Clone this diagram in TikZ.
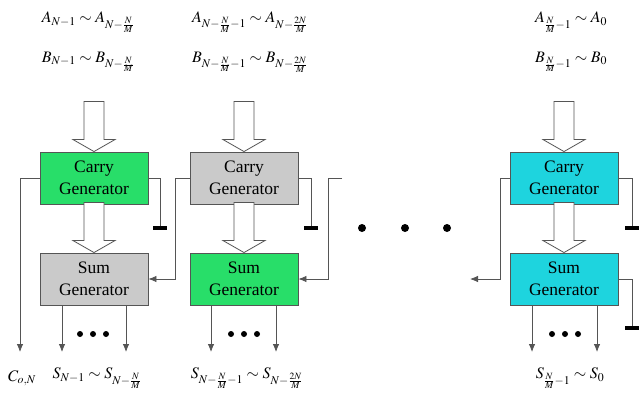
\documentclass[tikz,border=0pt]{standalone}
\usepackage{mathptmx}
\usepackage{fontspec}
\setmainfont{Liberation Serif}
\usetikzlibrary{arrows.meta,calc}
\definecolor{cgreen}{RGB}{40,222,105}
\definecolor{cgray}{RGB}{202,202,202}
\definecolor{ccyan}{RGB}{30,212,222}
\definecolor{wire}{RGB}{85,85,85}
\begin{document}
\begin{tikzpicture}[x=1pt,y=-1pt,
  blk/.style={draw=wire, line width=0.9pt, minimum width=108pt, minimum height=52pt, inner sep=0pt, align=center, font=\fontsize{17.5}{22}\selectfont},
  lbl/.style={inner sep=0pt, font=\fontsize{16}{19}\selectfont},
  wr/.style={draw=wire, line width=0.8pt},
  arr/.style={wr, -{Latex[length=8pt,width=6.5pt]}},
  gnd/.style={draw=black, line width=3.2pt},
  hollow/.pic={\draw[draw=wire, fill=white, line width=0.8pt] (0,0) -- (-21,-12) -- (-10,-12) -- (-10,-50) -- (10,-50) -- (10,-12) -- (21,-12) -- cycle;},
  bigdot/.style={circle, fill=black, inner sep=0pt, minimum size=8pt},
  smdot/.style={circle, fill=black, inner sep=0pt, minimum size=6pt}]
\useasboundingbox (0,0) rectangle (639,399);

% blocks
\node[blk, fill=cgreen] (c1) at (94,178) {Carry\\Generator};
\node[blk, fill=cgray]  (s1) at (94,279) {Sum\\Generator};
\node[blk, fill=cgray]  (c2) at (244,178) {Carry\\Generator};
\node[blk, fill=cgreen] (s2) at (244,279) {Sum\\Generator};
\node[blk, fill=ccyan]  (c3) at (564,178) {Carry\\Generator};
\node[blk, fill=ccyan]  (s3) at (564,279) {Sum\\Generator};

% top labels
\node[lbl] (a1) at (88,22) {$A_{N-1}\sim A_{N-\frac{N}{M}}$};
\node[lbl] (b1) at (88,62) {$B_{N-1}\sim B_{N-\frac{N}{M}}$};
\node[lbl] (a2) at (250,22) {$A_{N-\frac{N}{M}-1}\sim A_{N-\frac{2N}{M}}$};
\node[lbl] (b2) at (250,62) {$B_{N-\frac{N}{M}-1}\sim B_{N-\frac{2N}{M}}$};
\node[lbl] (a3) at (571,22) {$A_{\frac{N}{M}-1}\sim A_{0}$};
\node[lbl] (b3) at (571,62) {$B_{\frac{N}{M}-1}\sim B_{0}$};

% bottom labels
\node[lbl] (co) at (22,378) {$C_{o,N}$};
\node[lbl] (o1) at (97,378) {$S_{N-1}\sim S_{N-\frac{N}{M}}$};
\node[lbl] (o2) at (247,378) {$S_{N-\frac{N}{M}-1}\sim S_{N-\frac{2N}{M}}$};
\node[lbl] (o3) at (570,378) {$S_{\frac{N}{M}-1}\sim S_{0}$};

% hollow arrows
\pic at (c1.north) {hollow};
\pic at (s1.north) {hollow};
\pic at (c2.north) {hollow};
\pic at (s2.north) {hollow};
\pic at (c3.north) {hollow};
\pic at (s3.north) {hollow};

% carry out of block 1
\coordinate (cot) at (20,352);
\draw[arr] (c1.west) -| (cot);

% grounds
\coordinate (g1) at (160,228);
\coordinate (g2) at (311,228);
\coordinate (g3) at (632,228);
\coordinate (g4) at (632,328);
\draw[wr] (c1.east) -| (g1);
\draw[wr] (c2.east) -| (g2);
\draw[wr] (c3.east) -| (g3);
\draw[wr] (s3.east) -| (g4);
\foreach \g in {g1,g2,g3,g4}{\draw[gnd] ($(\g)+(-7,0)$) -- ($(\g)+(7,0)$);}

% carry chain
\coordinate (k2) at (175,279);
\draw[arr] (c2.west) -| (k2) -- (s1.east);
\coordinate (h3) at (342,178);
\coordinate (k3) at (328,279);
\draw[arr] (h3) -| (k3) -- (s2.east);
\coordinate (k4) at (500,279);
\coordinate (e4) at (470,279);
\draw[arr] (c3.west) -| (k4) -- (e4);

% outputs
\foreach \s/\xa/\xb in {s1/62/126, s2/211/276, s3/532/597}{
  \coordinate (ta) at (\xa,352);
  \coordinate (tb) at (\xb,352);
  \draw[arr] (\s.south -| ta) -- (ta);
  \draw[arr] (\s.south -| tb) -- (tb);
}
\foreach \x in {80,93,106,231,244,257,552,565,578}{\node[smdot] at (\x,334) {};}

% big dots
\node[bigdot] (d1) at (362,228) {};
\node[bigdot] (d2) at (405,228) {};
\node[bigdot] (d3) at (447,228) {};
\end{tikzpicture}
\end{document}
